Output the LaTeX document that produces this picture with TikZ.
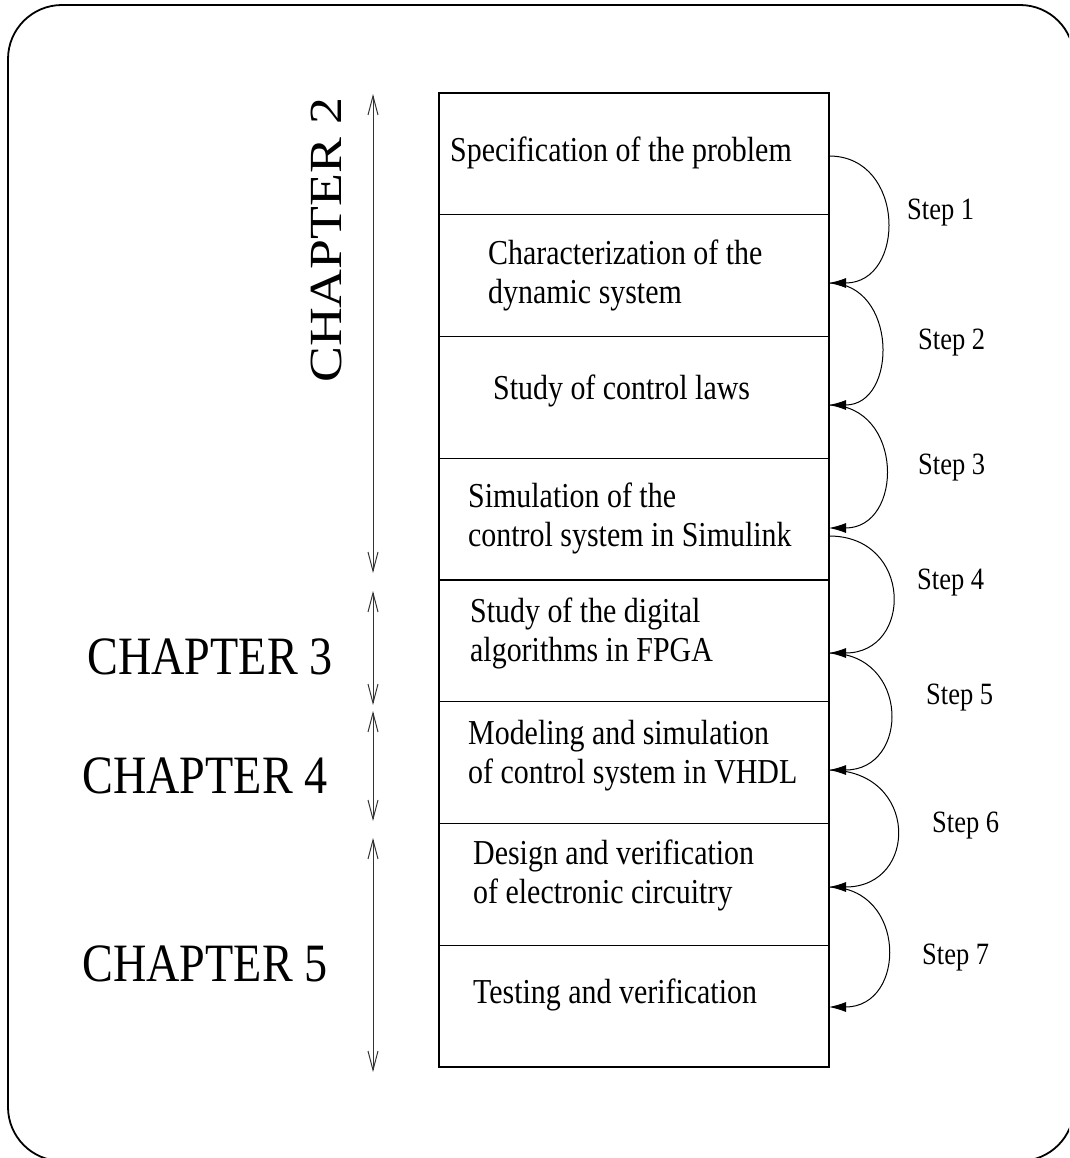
\documentclass[tikz,border=0pt]{standalone}
\usepackage{fontspec}
\setmainfont{Liberation Serif}[FakeStretch=0.855]
\newfontfamily\tallfont{Liberation Serif}[FakeStretch=1.17]
\usetikzlibrary{arrows.meta}

\begin{document}
\begin{tikzpicture}[x=1pt,y=-1pt,
  stage/.style={draw, line width=1.3pt, minimum width=390pt, minimum height=121.75pt,
    inner sep=0pt, outer sep=0pt, anchor=north west},
  stagetext/.style={anchor=west, align=left, inner sep=0pt, font=\fontsize{35}{39}\selectfont},
  steplabel/.style={anchor=west, inner sep=0pt, font=\fontsize{31}{36}\selectfont},
  chapter/.style={inner sep=0pt, font=\fontsize{54}{60}\selectfont},
  span/.style={draw=black!80, line width=1pt,
    {Straight Barb[length=19pt,width=10pt]}-{Straight Barb[length=19pt,width=10pt]}},
  stepflow/.style={draw, line width=1pt, -{Latex[length=17pt,width=10pt]}},
]
\useasboundingbox (0,0) rectangle (1069,1158);
\clip (0,0) rectangle (1069,1158);

% outer frame
\draw[line width=1.8pt, rounded corners=54pt] (8,5) rectangle (1074,1161);

% stacked stages of the design flow
\node[stage] (r1) at (439,93) {};
\node[stage] (r2) at (r1.south west) {};
\node[stage] (r3) at (r2.south west) {};
\node[stage] (r4) at (r3.south west) {};
\node[stage] (r5) at (r4.south west) {};
\node[stage] (r6) at (r5.south west) {};
\node[stage] (r7) at (r6.south west) {};
\node[stage] (r8) at (r7.south west) {};

\node[stagetext] (t1) at (450,153) {Specification of the problem};
\node[stagetext] (t2) at (488,275) {Characterization of the\\dynamic system};
\node[stagetext] (t3) at (493,391) {Study of control laws};
\node[stagetext] (t4) at (468,518) {Simulation of the\\control system in Simulink};
\node[stagetext] (t5) at (470,633) {Study of the digital\\algorithms in FPGA};
\node[stagetext] (t6) at (468,756) {Modeling and simulation\\of control system in VHDL};
\node[stagetext] (t7) at (473,875) {Design and verification\\of electronic circuitry};
\node[stagetext] (t8) at (473,995) {Testing and verification};

% step connectors on the right edge
\coordinate (s1) at (829,156);
\coordinate (s2) at (829,283);
\coordinate (s3) at (829,405);
\coordinate (s4) at (829,528);
\coordinate (s4b) at (829,536);
\coordinate (s5) at (829,653);
\coordinate (s6) at (829,770);
\coordinate (s7) at (829,887);
\coordinate (s8) at (829,1007);

\draw[stepflow] (s1) .. controls +(77,0) and +(77,0) .. (s2);
\draw[stepflow] (s2) .. controls +(69,0) and +(69,0) .. (s3);
\draw[stepflow] (s3) .. controls +(75,0) and +(75,0) .. (s4);
\draw[stepflow] (s4b) .. controls +(84,0) and +(84,0) .. (s5);
\draw[stepflow] (s5) .. controls +(81,0) and +(81,0) .. (s6);
\draw[stepflow] (s6) .. controls +(90,0) and +(90,0) .. (s7);
\draw[stepflow] (s7) .. controls +(78,0) and +(78,0) .. (s8);

\node[steplabel] (l1) at (907,213) {Step 1};
\node[steplabel] (l2) at (918,343) {Step 2};
\node[steplabel] (l3) at (918,468) {Step 3};
\node[steplabel] (l4) at (917,583) {Step 4};
\node[steplabel] (l5) at (926,698) {Step 5};
\node[steplabel] (l6) at (932,826) {Step 6};
\node[steplabel] (l7) at (922,958) {Step 7};

% chapter spans on the left
\coordinate (c2a) at (373,94);
\coordinate (c2b) at (373,573);
\coordinate (c3a) at (373,591);
\coordinate (c3b) at (373,705);
\coordinate (c4a) at (373,711);
\coordinate (c4b) at (373,821);
\coordinate (c5a) at (373,838);
\coordinate (c5b) at (373,1072);

\draw[span] (c2a) -- (c2b);
\draw[span] (c3a) -- (c3b);
\draw[span] (c4a) -- (c4b);
\draw[span] (c5a) -- (c5b);

\node[inner sep=0pt, rotate=90, font=\tallfont\fontsize{46}{50}\selectfont] (ch2) at (326,240) {CHAPTER 2};
\node[chapter] (ch3) at (210,657) {CHAPTER 3};
\node[chapter] (ch4) at (205,776) {CHAPTER 4};
\node[chapter] (ch5) at (205,964) {CHAPTER 5};
\end{tikzpicture}
\end{document}
